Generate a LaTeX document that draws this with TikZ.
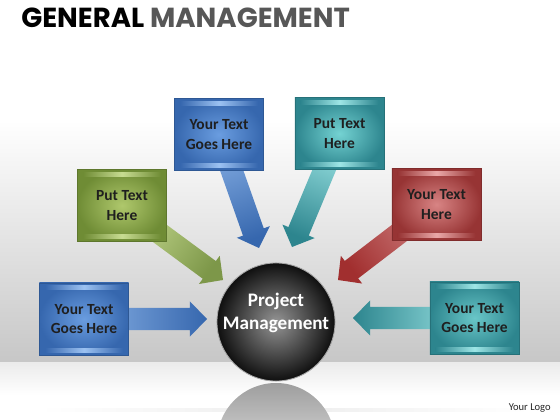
\documentclass[tikz,border=0pt]{standalone}
\usepackage{fontspec}
\setmainfont{Carlito}
\newfontfamily\titlefont{Poppins}
\usetikzlibrary{calc}

\pgfdeclarelayer{bg}
\pgfdeclarelayer{back}
\pgfsetlayers{bg,back,main}

\definecolor{blueedge}{HTML}{3667AE}
\definecolor{bluemid}{HTML}{6A9DE0}
\definecolor{blueband}{HTML}{9CC2F2}
\definecolor{greenedge}{HTML}{6F8C35}
\definecolor{greenmid}{HTML}{AFC86C}
\definecolor{greenband}{HTML}{C8DC92}
\definecolor{tealedge}{HTML}{2D858E}
\definecolor{tealmid}{HTML}{74D2D2}
\definecolor{tealband}{HTML}{9EE6E6}
\definecolor{rededge}{HTML}{973434}
\definecolor{redmid}{HTML}{D88484}
\definecolor{redband}{HTML}{EAA8A8}

\tikzset{
  txtbox/.style 2 args={rectangle, minimum width=2.225cm, minimum height=1.8cm,
    inner color=#2, outer color=#1, draw=#1!85!black, line width=0.5pt,
    align=center, text=black!88,
    font=\fontsize{11}{13.8}\selectfont\bfseries},
  ball/.style={circle, minimum size=2.95cm, inner color=black!42, outer color=black!94,
    draw=gray!70, line width=0.6pt},
  balltext/.style={align=center, text=white, inner sep=0,
    font=\fontsize{13.6}{16.5}\selectfont\bfseries},
}

% fat shaded arrow from #1 to #2
\newcommand{\fatarrow}[5]{%
  \coordinate (hb) at ($(#2)!0.425cm!(#1)$);
  \shade[top color=#3, bottom color=#4, shading angle=#5]
    ($(#1)!0.275cm!90:(#2)$) -- ($(hb)!0.275cm!90:(#2)$)
    -- ($(hb)!0.4375cm!90:(#2)$) -- (#2)
    -- ($(hb)!0.4375cm!-90:(#2)$) -- ($(hb)!0.275cm!-90:(#2)$)
    -- ($(#1)!0.275cm!-90:(#2)$) -- cycle;
}

\begin{document}
\begin{tikzpicture}[x=0.025cm, y=-0.025cm]
  \useasboundingbox (0,0) rectangle (560,420);

  % wall and floor
  \begin{pgfonlayer}{bg}
    \fill[white] (0,0) rectangle (560,120);
    \shade[top color=white, bottom color=black!22] (0,120) rectangle (560,362);
    \shade[top color=black!8, bottom color=white] (0,362) rectangle (560,395);
    \fill[white] (0,395) rectangle (560,420);
    \shade[left color=white, right color=white, middle color=black!7] (40,408) rectangle (530,411);
    \begin{scope}
      \clip (0,383) rectangle (560,420);
      \shade[top color=black!38, bottom color=white] (276,442) circle (59);
    \end{scope}
  \end{pgfonlayer}

  % title
  \node[anchor=base west, inner sep=0, font=\titlefont\bfseries\fontsize{19.6}{22}\selectfont] (title) at (21,28)
    {GENERAL \textcolor{black!66}{MANAGEMENT}};

  % boxes
  \node[txtbox={blueedge}{bluemid}] (b1) at (84,319) {Your Text\\Goes Here};
  \node[txtbox={greenedge}{greenmid}] (b2) at (122,205.5) {Put Text\\Here};
  \node[txtbox={blueedge}{bluemid}] (b3) at (219,134.5) {Your Text\\Goes Here};
  \node[txtbox={tealedge}{tealmid}] (b4) at (339.5,133.5) {Put Text\\Here};
  \node[txtbox={rededge}{redmid}] (b5) at (436.5,204.5) {Your Text\\Here};
  \node[txtbox={tealedge}{tealmid!85!tealedge}] (b6) at (474.5,318) {Your Text\\Goes Here};

  \node[ball] (pm) at (276,322) {};
  \node[balltext] (pmtext) at ($(pm)+(0,-9)$) {Project\\Management};

  % bevel bands
  \foreach \b/\c/\e in {b1/blueband/blueedge, b2/greenband/greenedge, b3/blueband/blueedge,
      b4/tealband/tealedge, b5/redband/rededge, b6/tealband/tealedge}{
    \shade[left color=\e, right color=\e, middle color=\c] ($(\b.north west)+(6,3)$) rectangle ($(\b.north east)+(-6,7)$);
    \shade[left color=\e, right color=\e, middle color=\c] ($(\b.south west)+(6,-7)$) rectangle ($(\b.south east)+(-6,-3)$);
  }

  % arrows
  \coordinate (t1) at (207,319);
  \coordinate (t2) at (223,280);
  \coordinate (t3) at (259,248);
  \coordinate (t4) at (292,247);
  \coordinate (t5) at (338,280);
  \coordinate (t6) at (353,318);
  \begin{pgfonlayer}{back}
    \fatarrow{b1}{t1}{blueband!80!blueedge}{blueedge}{90}
    \fatarrow{b2}{t2}{greenband}{greenedge!90!white}{53.6}
    \fatarrow{b3}{t3}{blueband!80!blueedge}{blueedge}{19.9}
    \fatarrow{b4}{t4}{tealband}{tealedge}{-22.7}
    \fatarrow{b5}{t5}{redband!70!rededge}{rededge!90!red}{-52.5}
    \fatarrow{b6}{t6}{tealband}{tealedge}{270}
  \end{pgfonlayer}

  \node[anchor=base east, inner sep=0, font=\fontsize{7.5}{9}\selectfont, text=black!85] (logo) at (551,410) {Your Logo};
\end{tikzpicture}
\end{document}
